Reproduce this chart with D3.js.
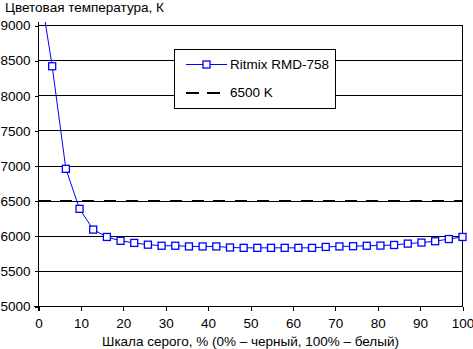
<!DOCTYPE html>
<html><head><meta charset="utf-8">
<script src="https://cdn.jsdelivr.net/npm/d3@7"></script>
<style>
html,body{margin:0;padding:0;background:#fff;}
svg{display:block;}
text{font-family:"Liberation Sans",Arial,sans-serif;font-size:13.5px;fill:#000;}
</style></head>
<body>
<svg id="chart" width="473" height="349"></svg>
<script>
const title = "Цветовая температура, К";
const xTitle = "Шкала серого, % (0% – черный, 100% – белый)";
const seriesName = "Ritmix RMD-758";
const refName = "6500 K";
const refValue = 6500;
const xTicks = [0,10,20,30,40,50,60,70,80,90,100];
const yTicks = [5000,5500,6000,6500,7000,7500,8000,8500,9000];
const grayLevels = d3.range(32).map(i => i*100/31);
const colorTemp = [9660,8420,6960,6390,6095,5990,5935,5905,5880,5865,
                   5865,5855,5855,5855,5840,5835,5835,5835,5835,5835,
                   5835,5848,5855,5858,5865,5867,5876,5895,5910,5929,
                   5960,5990];

const svg = d3.select("#chart");
const x = d3.scaleLinear().domain([0,100]).range([38.5,462.5]);
const y = d3.scaleLinear().domain([5000,9000]).range([306.5,25.5]);

// title
svg.append("text").attr("x",5).attr("y",12).text(title);

// gridlines
svg.append("g").selectAll("line").data(yTicks).join("line")
  .attr("x1",x(0)).attr("x2",x(100))
  .attr("y1",d=>Math.round(y(d)-0.5)+0.5).attr("y2",d=>Math.round(y(d)-0.5)+0.5)
  .attr("stroke","#000").attr("stroke-width",1).attr("shape-rendering","crispEdges");

// right border
svg.append("line").attr("x1",x(100)).attr("x2",x(100)).attr("y1",y(9000)).attr("y2",y(5000))
  .attr("stroke","#000").attr("shape-rendering","crispEdges");

// axes
const yAxis = d3.axisLeft(y).tickValues(yTicks).tickSize(4).tickPadding(4).tickFormat(d3.format("d"));
const gy = svg.append("g").attr("transform","translate(38.5,0)").call(yAxis);
const xAxis = d3.axisBottom(x).tickValues(xTicks).tickSize(4).tickPadding(8).tickFormat(d3.format("d"));
const gx = svg.append("g").attr("transform","translate(0,306.5)").call(xAxis);
[gx,gy].forEach(g=>{
  g.select(".domain").remove();
  g.selectAll("line").attr("stroke","#000").attr("shape-rendering","crispEdges");
  g.selectAll("text").attr("font-size",null).attr("font-family",null).style("font-size","13.5px").style("fill","#000");
});
// left axis line extended into plot top
svg.append("line").attr("x1",38.5).attr("x2",38.5).attr("y1",22).attr("y2",310.5)
  .attr("stroke","#000").attr("shape-rendering","crispEdges");
svg.append("line").attr("x1",34).attr("x2",x(100)).attr("y1",306.5).attr("y2",306.5)
  .attr("stroke","#000").attr("shape-rendering","crispEdges");

// reference dashed line
svg.append("line").attr("x1",x(0)).attr("x2",x(100))
  .attr("y1",y(refValue)).attr("y2",y(refValue))
  .attr("stroke","#000").attr("stroke-width",2).attr("stroke-dasharray","12,9.86")
  .attr("shape-rendering","crispEdges");

// clip
svg.append("clipPath").attr("id","clip").append("rect")
  .attr("x",x(0)).attr("y",22).attr("width",x(100)-x(0)+5).attr("height",306.5-22+5);

const data = grayLevels.map((g,i)=>({g, v:colorTemp[i]}));
const line = d3.line().x(d=>x(d.g)).y(d=>y(d.v));
const sg = svg.append("g").attr("clip-path","url(#clip)");
sg.append("path").datum(data).attr("d",line).attr("fill","none").attr("stroke","#0000ff").attr("stroke-width",1);
sg.selectAll("rect.m").data(data).join("rect").attr("class","m")
  .attr("x",d=>x(d.g)-3.5).attr("y",d=>y(d.v)-3.5).attr("width",7).attr("height",7)
  .attr("fill","#fff").attr("stroke","#0000ff").attr("stroke-width",1.3);

// x title
svg.append("text").attr("x",(x(0)+x(100))/2).attr("y",346).attr("text-anchor","middle").text(xTitle);

// legend
const lg = svg.append("g");
lg.append("rect").attr("x",174.5).attr("y",49.5).attr("width",161).attr("height",59)
  .attr("fill","#fff").attr("stroke","#000").attr("shape-rendering","crispEdges");
lg.append("line").attr("x1",186).attr("x2",227).attr("y1",64.5).attr("y2",64.5).attr("stroke","#0000ff");
lg.append("rect").attr("x",206.5-3.5).attr("y",64.5-3.5).attr("width",7).attr("height",7)
  .attr("fill","#fff").attr("stroke","#0000ff").attr("stroke-width",1.3);
lg.append("text").attr("x",230).attr("y",69).text(seriesName);
lg.append("line").attr("x1",186).attr("x2",221).attr("y1",92.5).attr("y2",92.5)
  .attr("stroke","#000").attr("stroke-width",2).attr("stroke-dasharray","13,8").attr("shape-rendering","crispEdges");
lg.append("text").attr("x",230).attr("y",97).text(refName);
</script>
</body></html>
